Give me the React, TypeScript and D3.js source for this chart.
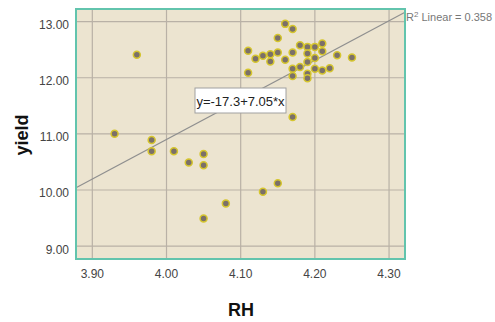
import * as d3 from "d3";

// RH vs yield scatter, SPSS style with linear fit line
const rh = [
  3.93, 3.96, 3.98, 3.98, 4.01, 4.03, 4.05, 4.05, 4.05, 4.08, 4.13, 4.15, 4.17,
  4.11, 4.11, 4.12, 4.13, 4.14, 4.14, 4.15, 4.15, 4.16, 4.17, 4.16, 4.17, 4.17,
  4.17, 4.18, 4.18, 4.19, 4.19, 4.19, 4.19, 4.19, 4.2, 4.2, 4.2, 4.21, 4.21,
  4.21, 4.22, 4.23, 4.25,
];
const yieldVals = [
  11.0, 12.41, 10.89, 10.69, 10.69, 10.49, 10.64, 10.44, 9.49, 9.76, 9.97, 10.12, 11.3,
  12.48, 12.09, 12.34, 12.39, 12.42, 12.29, 12.45, 12.71, 12.96, 12.87, 12.32, 12.45, 12.16,
  12.03, 12.58, 12.19, 12.55, 12.43, 12.28, 12.07, 11.99, 12.55, 12.35, 12.16, 12.61, 12.47,
  12.13, 12.17, 12.4, 12.36,
];
const xTicks = [3.9, 4.0, 4.1, 4.2, 4.3];
const yTicks = [9, 10, 11, 12, 13];
const fit = { a: -17.3, b: 7.05 };
const rSquared = "0.358";

const W = 495;
const H = 322;
const P = { left: 76, right: 405, top: 9, bottom: 259 };
const FONT = "'Liberation Sans', Arial, sans-serif";

export default function App() {
  const x = d3.scaleLinear().domain([3.878, 4.3215]).range([P.left, P.right]);
  const y = d3.scaleLinear().domain([8.77, 13.225]).range([P.bottom, P.top]);
  const [x0, x1] = x.domain();

  const points = rh.map((v, i) => [v, yieldVals[i]] as [number, number]);

  return (
    <svg
      width={W}
      height={H}
      style={{ position: "absolute", left: 0, top: 0, background: "#fff" }}
      fontFamily={FONT}
    >
      <rect
        x={P.left}
        y={P.top}
        width={P.right - P.left}
        height={P.bottom - P.top}
        fill="#ece4d0"
      />
      {/* grid */}
      {xTicks.map((t) => (
        <line
          key={"gx" + t}
          x1={x(t)}
          x2={x(t)}
          y1={P.top}
          y2={P.bottom}
          stroke="#b9b1a6"
          strokeWidth={1.2}
        />
      ))}
      {yTicks.map((t) => (
        <line
          key={"gy" + t}
          x1={P.left}
          x2={P.right}
          y1={y(t)}
          y2={y(t)}
          stroke="#b9b1a6"
          strokeWidth={1.2}
        />
      ))}
      {/* fit line */}
      <line
        x1={x(x0)}
        y1={y(fit.a + fit.b * x0)}
        x2={x(x1)}
        y2={y(fit.a + fit.b * x1)}
        stroke="#8f8f8f"
        strokeWidth={1.3}
      />
      {points.map(([a, b], i) => (
        <circle
          key={i}
          cx={x(a)}
          cy={y(b)}
          r={3.5}
          fill="#7b7069"
          stroke="#d6c62e"
          strokeWidth={1.5}
        />
      ))}
      <rect
        x={P.left}
        y={P.top}
        width={P.right - P.left}
        height={P.bottom - P.top}
        fill="none"
        stroke="#62c4ad"
        strokeWidth={2}
      />
      {/* equation label */}
      <rect x={195} y={88} width={91} height={25} fill="#fff" stroke="#a0a0a0" />
      <text x={240.5} y={105.5} textAnchor="middle" fontSize={13} fill="#222">
        y=-17.3+7.05*x
      </text>
      {/* R2 label */}
      <text x={406} y={21} fontSize={11} fill="#777">
        R<tspan dy={-4} fontSize={8}>2</tspan>
        <tspan dy={4}> Linear = {rSquared}</tspan>
      </text>
      {/* tick labels */}
      {yTicks.map((t) => (
        <text
          key={"ty" + t}
          x={69}
          y={y(t) + 7.5}
          textAnchor="end"
          fontSize={12}
          fill="#444"
        >
          {t.toFixed(2)}
        </text>
      ))}
      {xTicks.map((t) => (
        <text
          key={"tx" + t}
          x={x(t)}
          y={278}
          textAnchor="middle"
          fontSize={12}
          fill="#444"
        >
          {t.toFixed(2)}
        </text>
      ))}
      <text x={241} y={316} textAnchor="middle" fontSize={18} fontWeight="bold" fill="#111">
        RH
      </text>
      <text
        transform="translate(28,135) rotate(-90)"
        textAnchor="middle"
        fontSize={18}
        fontWeight="bold"
        fill="#111"
      >
        yield
      </text>
    </svg>
  );
}
